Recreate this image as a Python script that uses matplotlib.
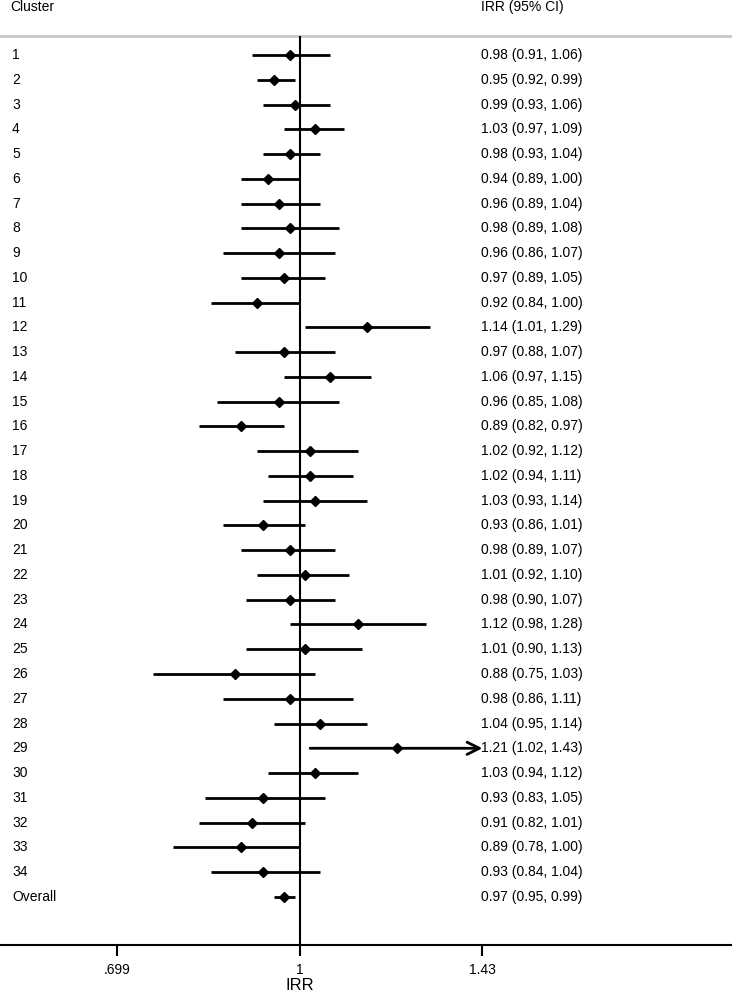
import numpy as np
import matplotlib.pyplot as plt
from matplotlib.transforms import blended_transform_factory

plt.rcParams['font.family'] = ['Liberation Sans', 'DejaVu Sans']

clusters = [str(i) for i in range(1, 35)] + ['Overall']
irr = [0.98, 0.95, 0.99, 1.03, 0.98, 0.94, 0.96, 0.98, 0.96, 0.97,
       0.92, 1.14, 0.97, 1.06, 0.96, 0.89, 1.02, 1.02, 1.03, 0.93,
       0.98, 1.01, 0.98, 1.12, 1.01, 0.88, 0.98, 1.04, 1.21, 1.03,
       0.93, 0.91, 0.89, 0.93, 0.97]
lo = [0.91, 0.92, 0.93, 0.97, 0.93, 0.89, 0.89, 0.89, 0.86, 0.89,
      0.84, 1.01, 0.88, 0.97, 0.85, 0.82, 0.92, 0.94, 0.93, 0.86,
      0.89, 0.92, 0.90, 0.98, 0.90, 0.75, 0.86, 0.95, 1.02, 0.94,
      0.83, 0.82, 0.78, 0.84, 0.95]
hi = [1.06, 0.99, 1.06, 1.09, 1.04, 1.00, 1.04, 1.08, 1.07, 1.05,
      1.00, 1.29, 1.07, 1.15, 1.08, 0.97, 1.12, 1.11, 1.14, 1.01,
      1.07, 1.10, 1.07, 1.28, 1.13, 1.03, 1.11, 1.14, 1.43, 1.12,
      1.05, 1.01, 1.00, 1.04, 0.99]
ticks = [0.699, 1, 1.43]
tick_labels = ['.699', '1', '1.43']

rows = np.arange(1, len(clusters) + 1)

fig = plt.figure(figsize=(7.32, 9.92), dpi=100)
ax = fig.add_axes([0, 47 / 992, 1, 945 / 992])
ax.set_xscale('log')
ax.set_xlim(np.exp(-300 / 510), np.exp(432 / 510))
ax.set_ylim(1 + 890 / 24.76, 1 - 55 / 24.76)

top_line = 1 - 19 / 24.76
ax.axhline(top_line, color='#c8c8c8', lw=2)
ax.vlines(1, top_line, ax.get_ylim()[0], color='black', lw=1.5)

# CIs, arrow where the interval runs past the axis range
xmax_tick = ticks[-1]
for r, l, h in zip(rows, lo, hi):
    if h >= xmax_tick:
        ax.annotate('', xy=(xmax_tick, r), xytext=(l, r),
                    arrowprops=dict(arrowstyle='->', lw=2, color='black',
                                    mutation_scale=22, shrinkA=0, shrinkB=0))
    else:
        ax.hlines(r, l, h, color='black', lw=2)
ax.plot(irr, rows, 'D', color='black', ms=5.5)

tr = blended_transform_factory(ax.transAxes, ax.transData)
for r, c, v, l, h in zip(rows, clusters, irr, lo, hi):
    ax.text(12 / 732, r, c, transform=tr, va='center', ha='left', fontsize=10)
    ax.text(481 / 732, r, f'{v:.2f} ({l:.2f}, {h:.2f})', transform=tr,
            va='center', ha='left', fontsize=10)
ax.text(10 / 732, -0.95, 'Cluster', transform=tr, va='center', ha='left', fontsize=10)
ax.text(481 / 732, -0.95, 'IRR (95% CI)', transform=tr, va='center', ha='left', fontsize=10)

for s in ['top', 'left', 'right']:
    ax.spines[s].set_visible(False)
ax.spines['bottom'].set_linewidth(1.5)
ax.set_yticks([])
ax.set_xticks(ticks)
ax.set_xticklabels(tick_labels)
ax.minorticks_off()
ax.tick_params(axis='x', length=8, width=1.5, pad=5, labelsize=10)
ax.set_xlabel('IRR', fontsize=12, labelpad=0)
ax.xaxis.set_label_coords(300 / 732, -41 / 945, transform=None)
ax.xaxis.label.set_transform(ax.transAxes)
ax.xaxis.label.set_va('center')

plt.savefig('out.png', dpi=100)
